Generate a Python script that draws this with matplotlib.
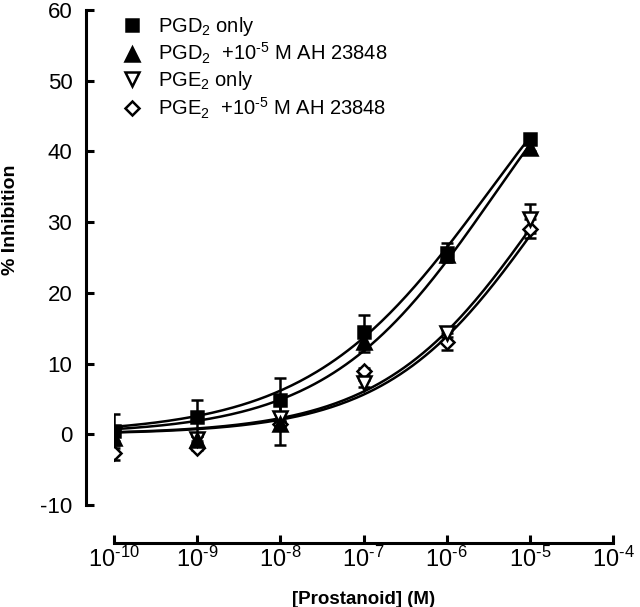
'''
    Inhibition vs. prostanoid concentration, PGD2 / PGE2 with and without AH 23848
'''
import numpy as np
import matplotlib
matplotlib.use('Agg')
import matplotlib.pyplot as plt

plt.rcParams['font.family'] = ['Liberation Sans', 'DejaVu Sans']
plt.rcParams['mathtext.default'] = 'regular'
plt.rcParams['axes.unicode_minus'] = False

# concentrations (M)
conc = [1e-10, 1e-9, 1e-8, 1e-7, 1e-6, 1e-5]

# % inhibition
pgd2_only     = [0.4, 2.5, 4.9, 14.5, 25.7, 41.7]
pgd2_only_err = [2.4, 2.3, 3.0, 2.4, 1.4, 0.5]
pgd2_ah       = [-0.5, -0.75, 1.4, 13.1, 25.3, 40.5]
pgd2_ah_err   = [0.5, 0.5, 2.9, 1.4, 0.5, 0.5]
pge2_only     = [0.1, -0.6, 2.3, 7.2, 14.3, 30.5]
pge2_only_err = [0.3, 0.3, 0.5, 0.5, 0.5, 2.0]
pge2_ah       = [-2.6, -1.9, 1.4, 8.9, 13.1, 29.1]
pge2_ah_err   = [1.1, 0.3, 0.5, 0.5, 1.2, 1.4]

# fitted curve parameters: (top, log EC50, hill slope)
fit_pgd2_only = (69.0, -5.48, 0.40)
fit_pgd2_ah   = (68.0, -5.42, 0.43)
fit_pge2_only = (64.4, -4.81, 0.45)
fit_pge2_ah   = (62.0, -4.82, 0.46)

labels = [r'PGD$_2$ only',
          'PGD$_2$  +10$^{\u20105}$ M AH 23848',
          r'PGE$_2$ only',
          'PGE$_2$  +10$^{\u20105}$ M AH 23848']
xtick_labels = ['10$^{\u2010%d}$' % e for e in range(10, 3, -1)]


def hill(logx, top, logec50, h):
    return top / (1.0 + 10 ** ((logec50 - logx) * h))


fig = plt.figure(figsize=(6.4, 6.07), dpi=100)
ax = fig.add_axes([114 / 640, 1 - 505 / 607, (613 - 114) / 640, (505 - 10) / 607])

_logx = np.linspace(-10, -5, 200)
for _fit in (fit_pgd2_only, fit_pgd2_ah, fit_pge2_only, fit_pge2_ah):
    ax.plot(10 ** _logx, hill(_logx, *_fit), color='black', lw=1.8, zorder=2)

_series = [
    (pge2_ah, pge2_ah_err, 'D', 'white', 7, labels[3]),
    (pge2_only, pge2_only_err, 'v', 'white', 9.5, labels[2]),
    (pgd2_ah, pgd2_ah_err, '^', 'black', 9.5, labels[1]),
    (pgd2_only, pgd2_only_err, 's', 'black', 9, labels[0]),
]
_handles = {}
for _y, _err, _m, _fc, _ms, _lab in _series:
    _h = ax.errorbar(conc, _y, yerr=_err, fmt=_m, mfc=_fc, mec='black', mew=1.8,
                     ms=_ms, ecolor='black', elinewidth=1.8, capsize=4.5,
                     capthick=1.8, zorder=3)
    _handles[_lab] = _h[0]

ax.legend([_handles[l] for l in labels], labels,
          loc='upper left', bbox_to_anchor=(-0.01, 1.014), frameon=False,
          fontsize=14.5, handletextpad=0.75, labelspacing=0.15,
          handlelength=1.1, borderaxespad=0.2)

ax.set_xscale('log')
ax.set_xlim(1e-10, 1e-4)
ax.set_ylim(-10, 60)
ax.set_xticks([1e-10, 1e-9, 1e-8, 1e-7, 1e-6, 1e-5, 1e-4])
ax.set_xticklabels(xtick_labels)
ax.xaxis.set_minor_locator(matplotlib.ticker.NullLocator())
ax.set_yticks(range(-10, 61, 10))

ax.spines['top'].set_visible(False)
ax.spines['right'].set_visible(False)
ax.spines['left'].set_position(('outward', 20))
ax.spines['bottom'].set_position(('outward', 27))
ax.spines['left'].set_linewidth(2.2)
ax.spines['bottom'].set_linewidth(2.2)
ax.tick_params(axis='both', direction='in', length=6, width=2.2,
               labelsize=16, pad=10)
ax.tick_params(axis='x', labelsize=17, pad=3)

ax.set_ylabel('% Inhibition', fontsize=14, fontweight='bold')
ax.yaxis.set_label_coords(-0.19, 0.576)
ax.set_xlabel('[Prostanoid] (M)', fontsize=13.5, fontweight='bold')
ax.xaxis.set_label_coords(0.5, -0.174)

fig.savefig('out.png', dpi=100)
